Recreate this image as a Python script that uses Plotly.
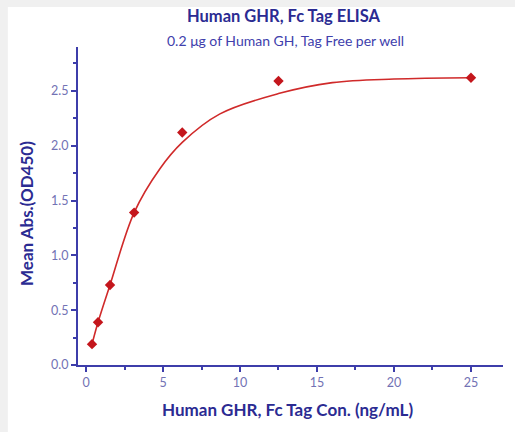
import plotly.graph_objects as go

# measured data points
conc = [0.39, 0.78, 1.56, 3.125, 6.25, 12.5, 25]
absorb = [0.19, 0.39, 0.73, 1.39, 2.12, 2.59, 2.62]

# fitted curve
curve_x = [0.39, 0.78, 1.56, 3.125, 4.8, 6.25, 8.7, 12.5, 16.0, 20.0, 25.0]
curve_y = [0.19, 0.39, 0.73, 1.39, 1.79, 2.03, 2.29, 2.475, 2.575, 2.608, 2.62]

x_ticks = [0, 5, 10, 15, 20, 25]
y_ticks = [0.0, 0.5, 1.0, 1.5, 2.0, 2.5]
y_tick_text = ["0.0", "0.5", "1.0", "1.5", "2.0", "2.5"]

navy = "#2b2b92"
axis_col = "#3d3daa"
tick_col = "#7272b4"
red_line = "#d02a2a"
red_mark = "#c4161c"
frame_col = "#f0f0f0"
font_fam = "Lato, 'Open Sans', sans-serif"

fig = go.Figure()
fig.add_trace(go.Scatter(x=curve_x, y=curve_y, mode="lines",
                         line=dict(color=red_line, width=1.6, shape="spline", smoothing=1.0),
                         hoverinfo="skip"))
fig.add_trace(go.Scatter(x=conc, y=absorb, mode="markers",
                         marker=dict(symbol="diamond", size=8, color=red_mark)))

# light grey strips on top and left edges
fig.add_shape(type="rect", xref="paper", yref="paper", x0=-0.3, x1=1.2,
              y0=1.126, y1=1.3, fillcolor=frame_col, line=dict(width=0), layer="below")
fig.add_shape(type="rect", xref="paper", yref="paper", x0=-0.3, x1=-0.165,
              y0=-0.4, y1=1.3, fillcolor=frame_col, line=dict(width=0), layer="below")

fig.update_layout(
    width=515, height=432,
    margin=dict(l=78, r=12, t=47, b=67, autoexpand=False),
    paper_bgcolor="white", plot_bgcolor="white",
    showlegend=False,
    font=dict(family=font_fam),
    annotations=[
        dict(text="<b>Human GHR, Fc Tag ELISA</b>", xref="paper", yref="paper",
             x=0.485, y=1.0975, xanchor="center", yanchor="middle", showarrow=False,
             font=dict(size=16.5, color=navy)),
        dict(text="0.2 μg of Human GH, Tag Free per well", xref="paper", yref="paper",
             x=0.489, y=1.019, xanchor="center", yanchor="middle", showarrow=False,
             font=dict(size=14, color="#4040ac")),
        dict(text="<b>Human GHR, Fc Tag Con. (ng/mL)</b>", xref="paper", yref="paper",
             x=0.494, y=-0.1415, xanchor="center", yanchor="middle", showarrow=False,
             font=dict(size=17, color=navy)),
        dict(text="<b>Mean Abs.(OD450)</b>", xref="paper", yref="paper",
             x=-0.12, y=0.475, xanchor="center", yanchor="middle", showarrow=False,
             textangle=-90, font=dict(size=17, color=navy)),
    ],
)
fig.update_xaxes(
    range=[-0.52, 27.08], tickvals=x_ticks, ticks="outside", ticklen=5, tickwidth=2,
    tickcolor=axis_col, showline=True, linecolor=axis_col, linewidth=2,
    showgrid=False, zeroline=False, automargin=False,
    tickfont=dict(size=12.5, color=tick_col),
    minor=dict(dtick=2.5, tick0=0, ticks="outside", ticklen=3, tickwidth=2, tickcolor=axis_col),
)
fig.update_yaxes(
    range=[0, 2.90], tickvals=y_ticks, ticktext=y_tick_text,
    ticks="outside", ticklen=5, tickwidth=2,
    tickcolor=axis_col, showline=True, linecolor=axis_col, linewidth=2,
    showgrid=False, zeroline=False, automargin=False,
    tickfont=dict(size=12.5, color=tick_col),
    minor=dict(dtick=0.25, tick0=0, ticks="outside", ticklen=3, tickwidth=2, tickcolor=axis_col),
)

fig.write_html("out.html",
               config={"displayModeBar": False},
               post_script="document.body.style.margin='0';document.body.style.overflow='hidden';")
